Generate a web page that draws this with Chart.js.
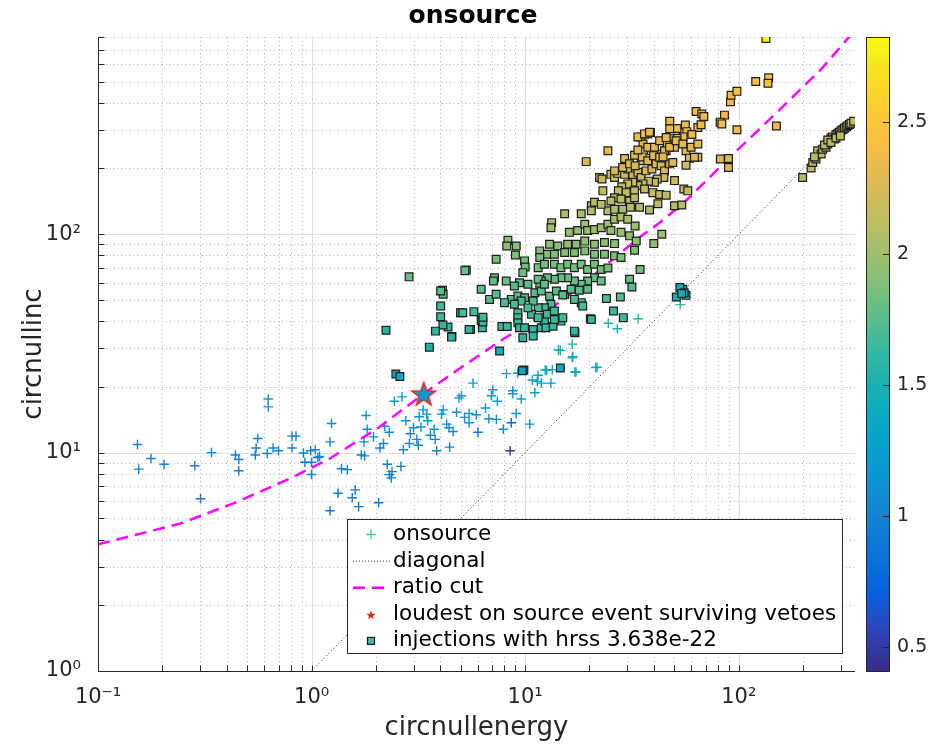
<!DOCTYPE html>
<html>
<head>
<meta charset="utf-8">
<script src="https://cdn.jsdelivr.net/npm/chart.js"></script>
<style>
  html, body { margin: 0; padding: 0; background: #fff; }
</style>
</head>
<body>
<canvas id="grafico" width="946" height="746"></canvas>
<script>
// ---- datos ----
// [circnullenergy, circnullinc, valor de color]
const onsource = [
  [0.153,10.9,1.0],[0.155,8.4,0.95],[0.177,9.4,0.97],[0.204,8.85,0.96],[0.284,8.7,0.96],[0.302,6.15,0.9],
  [0.34,10.0,0.98],[0.44,9.75,0.98],[0.456,9.3,0.97],[0.456,8.26,0.95],[0.545,9.75,0.98],[0.56,11.6,1.02],
  [0.55,10.5,1.0],[0.62,9.9,0.98],[0.66,10.5,1.0],[0.70,10.2,1.0],[0.627,17.6,1.22],[0.627,16.2,1.2],
  [0.81,11.9,1.03],[0.845,11.9,1.03],[0.81,10.5,1.0],[0.916,9.96,0.99],[0.93,9.04,0.97],[1.0,9.04,0.97],
  [1.0,7.94,0.95],[1.04,10.3,1.0],[1.07,9.5,0.98],[1.09,9.6,0.98],[0.99,10.2,1.0],
  [1.22,11.2,1.02],[1.24,13.6,1.08],[1.22,5.42,0.88],[1.33,6.52,0.9],[1.38,8.43,0.95],[1.47,8.36,0.95],
  [1.55,6.21,0.9],[1.60,6.75,0.92],[1.66,5.66,0.88],[1.71,9.75,0.98],[1.77,9.66,0.98],[1.76,11.2,1.02],
  [1.82,12.8,1.06],[1.80,14.8,1.1],[2.06,5.89,0.89],[2.09,10.5,1.0],[2.17,11.0,1.02],[2.26,8.85,0.96],
  [2.31,7.93,0.94],[2.36,7.66,0.93],[2.38,8.18,0.95],[2.31,12.4,1.05],[2.44,17.2,1.2],[2.65,18.0,1.22],
  [2.62,8.65,0.96],[2.69,10.3,1.0],[2.76,14.0,1.1],[2.87,11.0,1.02],[3.11,11.5,1.03],[3.16,10.8,1.01],
  [3.25,13.1,1.07],[3.19,14.6,1.1],[3.33,15.7,1.13],[3.46,15.0,1.12],[3.75,12.8,1.06],[3.79,11.5,1.03],
  [3.85,10.2,1.0],[4.06,15.0,1.12],[4.13,15.7,1.13],[4.29,13.5,1.08],[4.40,13.0,1.07],[4.43,10.6,1.01],
  [4.77,15.3,1.12],[4.90,17.8,1.2],[5.03,18.2,1.2],[5.46,15.1,1.12],[5.46,13.7,1.08],[5.70,20.8,1.25],
  [6.01,12.4,0.85],[6.52,16.0,1.14],[6.76,14.3,1.1],[6.95,18.2,1.2],[7.06,19.4,1.23],[7.41,17.2,1.18],
  [7.33,14.2,1.1],[7.90,12.8,1.06],[8.17,23.0,1.3],[8.61,13.7,0.75],[8.75,19.2,1.22],[8.75,18.6,1.22],
  [9.08,15.1,1.12],[9.23,23.1,1.3],[9.58,17.6,1.2],[10.5,13.5,1.08],[10.8,21.5,1.28],[11.1,18.8,1.22],
  [11.4,21.2,1.27],[11.9,20.8,1.26],[12.4,23.9,1.32],[13.2,20.8,1.26],[13.4,24.0,1.32],[14.3,29.5,1.42],
  [16.6,31.4,1.45],[16.6,27.2,1.4],[17.1,23.4,1.32],[21.4,24.5,1.35],[24.5,39.1,1.5],[27.0,36.9,1.5],
  [33.8,41.0,1.55],[53.2,47.6,1.58],[8.5,10.2,0.45],[14.6,29.4,1.42],[16.7,27.5,1.4],[21.7,24.6,1.35],
  [17.3,23.4,1.33],[12.6,23.8,1.32],[11.5,22.6,1.3],[2.9,12.2,1.05],[3.0,13.0,1.07],[3.5,14.0,1.09],
  [3.6,12.0,1.04],[4.6,12.5,1.05],[5.2,14.5,1.1],[5.9,14.9,1.11],[2.2,13.2,1.07],[1.95,11.8,1.04]
];

const injections = [
  [134,787,2.8],[120,500,2.45],[138,520,2.46],[137,491,2.45],[91.4,404,2.42],[92,433,2.43],[98,451,2.44],
  [63.1,365,2.4],[67.1,355,2.4],[68.6,346,2.39],[85.7,351,2.4],[81.8,326,2.37],[83.3,320,2.37],[98,301,2.36],
  [150,313,2.37],[47.5,329,2.37],[51.4,305,2.36],[47.5,304,2.36],[56.2,316,2.37],[57.1,295,2.34],[54.9,279,2.33],
  [51.4,275,2.33],[47.5,274,2.32],[64.3,308,2.36],[66.6,317,2.37],[38.6,292,2.33],[34.9,279,2.33],[37.5,288,2.33],
  [35.6,259,2.3],[24.4,241,2.3],[19.3,215,2.27],[29.2,222,2.27],[32.1,199,2.24],[34.9,217,2.27],[38.9,241,2.29],
  [41.8,233,2.28],[45.7,241,2.29],[46.2,259,2.3],[50,250,2.3],[56.6,241,2.29],[59.8,250,2.3],[64.3,259,2.3],
  [58.7,223,2.27],[64.3,225,2.27],[56.6,207,2.24],[82,221,2.27],[89.5,222,2.27],[89.5,202,2.24],
  [50,176,2.2],[55.3,161,2.15],[57.7,158,2.15],[50,135,2.1],[54.1,136,2.1],[43.6,100,1.97],[40,90.6,1.92],
  [34.5,69,1.84],[30.8,62.2,1.79],[31.6,57.3,1.74],[28.8,41.5,1.66],[25.9,44.5,1.67],[27.9,51.6,1.74],
  [24,50.8,1.74],[20.2,41,1.66],[17.1,35.4,1.61],
  [22.3,182,2.2],[23.1,158,2.15],[25.2,188,2.2],[26.2,182,2.2],[27.1,190,2.22],[29.2,188,2.2],[30.2,199,2.24],
  [31.9,185,2.2],[33.7,192,2.23],[34.9,182,2.2],[36.8,195,2.23],[39.2,199,2.24],[41,210,2.25],[43.3,206,2.24],
  [44.9,195,2.23],[47.4,210,2.25],[49.1,213,2.26],[44.6,182,2.2],[41.5,179,2.2],[40.3,173,2.19],[37.8,175,2.19],
  [35.6,170,2.17],[33.7,167,2.15],[31.9,173,2.18],[30.2,170,2.17],[28.3,165,2.15],[27.3,158,2.14],[29.7,155,2.14],
  [32.5,158,2.15],[36.2,161,2.15],[39.6,155,2.14],[42.6,152,2.13],[45.7,151,2.13],[41.8,138,2.1],[38.2,129,2.05],
  [34.3,133,2.08],[26.2,147,2.11],[25.2,142,2.1],[28.1,145,2.11],[30.8,142,2.1],[32.5,147,2.11],[24.4,128,2.05],
  [26.2,130,2.06],[28.6,130,2.06],[31.1,133,2.08],[20.4,135,2.08],[21.1,140,2.1],[22.7,137,2.09],
  [22.9,179,2.2],[26.2,195,2.23],[28.6,202,2.24],[30.8,210,2.25],[32.7,206,2.24],[35.3,226,2.27],[37.5,217,2.26],
  [39.9,229,2.28],[42.6,225,2.27],[44.9,241,2.29],[44.2,226,2.27],[32.5,230,2.28],[33.7,243,2.29],[37.5,250,2.3],
  [40.3,250,2.3],[42.6,268,2.31],[45.7,277,2.33],[33.7,279,2.33],[36.2,288,2.33],[38.2,293,2.34],[47.4,250,2.3],
  [50.9,268,2.31],[54.7,259,2.3],[60.3,286,2.33],[62,225,2.27],
  [15.3,124,2.03],[18.3,124,2.03],[20.4,128,2.05],[13.3,113,2.0],[13.2,107,1.98],[16.1,102,1.97],[17.6,104,1.97],
  [19,111,2.0],[19.6,104,1.97],[21.1,105,1.97],[22.7,107,1.98],[24.4,111,2.0],[26.2,117,2.02],[28.1,120,2.03],
  [30.2,117,2.02],[32.7,109,1.98],[25.2,104,1.97],[28.1,102,1.97],[30.8,98.3,1.95],[33.1,93.1,1.93],[32.5,84.5,1.88],
  [26.2,90.6,1.92],[23.5,91.6,1.92],[21.1,90,1.92],[19,93,1.93],[17.3,90,1.92],[15.8,90,1.92],[14.2,88.4,1.91],
  [13,90,1.92],[11.7,83.9,1.88],[12.7,81,1.88],[13.7,81,1.88],[15.3,82.4,1.88],[17,82.4,1.88],[19,83.9,1.88],
  [21.1,81,1.88],[23.5,81,1.88],[26.2,79.6,1.87],[28.1,78.2,1.87],
  [8.3,93.8,1.93],[8.2,88.4,1.91],[9.08,88.4,1.91],[9,80.4,1.88],[7.31,76.8,1.87],[9.93,75.5,1.86],[10,70.8,1.84],
  [9.75,66.7,1.83],[11.7,78.2,1.87],[11.5,70.3,1.84],[12.3,72.8,1.85],[13.7,72.8,1.85],[14.7,70.3,1.84],
  [15.8,72.8,1.85],[17,70.3,1.84],[18.3,72.8,1.85],[19.6,69,1.84],[21.1,72.8,1.85],[22.7,69,1.84],[24.4,70,1.84],
  [21.1,63.2,1.8],[22.7,61.1,1.79],[19.6,61.1,1.79],[18.3,59,1.78],[17,61.1,1.79],[15.8,63.2,1.8],[14.7,63.2,1.8],
  [13.7,62.2,1.79],[12.7,63.2,1.8],[11.9,61.1,1.79],[11.7,57.9,1.76],[11.5,62.2,1.79],[10.3,59,1.77],[9.4,60,1.78],
  [8.9,57.9,1.76],[8.15,61.1,1.79],[7.18,63.2,1.8],[7.1,61.1,1.79],[6.22,56,1.75],[5.3,68.5,1.83],[2.86,63.8,1.8],
  [4.1,55.4,1.75],[4.13,53.1,1.74],[6.81,50.3,1.73],[7.31,53.1,1.74],[8.6,50.3,1.73],[9.24,52.1,1.74],
  [9.93,51.2,1.73],[11.1,54,1.74],[11.9,55,1.75],[13,52,1.74],[14,55,1.75],[15.3,53,1.74],[16.4,56,1.75],
  [17.9,55.4,1.75],[19.6,56,1.75],[18.3,48.6,1.7],[17,50.3,1.72],[15,52.7,1.74],[13.2,47.8,1.7],[12.3,46.1,1.69],
  [11.5,46.1,1.69],[10.9,49.4,1.71],[9.58,49.4,1.71],[8.9,47.8,1.7],[8,48.6,1.7],[9.24,43.7,1.67],[9.24,41.5,1.66],
  [9.24,39.3,1.64],[9.4,37.3,1.62],[9.93,37.3,1.62],[9.75,33.6,1.57],[10.9,36.6,1.61],[10.9,34.2,1.58],
  [11.9,37.3,1.62],[12.3,40,1.64],[12.7,43,1.66],[13.7,44.5,1.67],[12.5,37.3,1.62],[13.5,37.9,1.62],[14.7,40,1.64],
  [15,41.5,1.66],[13.7,40.7,1.65],[17,36,1.61],[20.4,40.7,1.65],[18.6,46.9,1.69],[10.7,43,1.66],[11.5,41.5,1.66],
  [10.3,46,1.69],[12.3,59,1.77],
  [2.23,36.3,1.55],[4.02,55,1.75],[4.02,46.9,1.69],[4.02,41.9,1.66],[4.35,37.6,1.62],[4.12,38.4,1.62],[3.8,36,1.6],
  [4.54,34,1.57],[3.56,30.4,1.52],[4.98,43.7,1.67],[5.1,43.7,1.67],[5.75,44.2,1.67],[5.55,36.6,1.6],[6.22,40.3,1.64],
  [6.3,37.3,1.62],[7.59,29.2,1.48],[7.78,37.8,1.62],[8.24,37.8,1.62],[5.46,36.6,1.6],[6.34,39.6,1.63],[6.34,41.7,1.66],
  [4.52,33.8,1.56],[5.22,68.1,1.83],[9.86,23.9,1.38],[9.7,23.7,1.37],[14.6,24.4,1.4],[2.48,22.9,1.36],[2.59,22.3,1.36],
  [54.7,56,1.45],[51,51.6,1.43],[56.6,52.5,1.45],[53,57,1.45],[55.5,54,1.45],[54,53.5,1.44],
  [199,182,2.08],[218,201,2.09],[222,213,2.09],[230,221,2.1],[234,241,2.1],[243,233,2.1],[247,245,2.1],
  [256,250,2.1],[261,259,2.1],[266,268,2.11],[270,276,2.11],[275,279,2.11],[280,273,2.11],[285,286,2.11],
  [291,290,2.11],[296,293,2.12],[301,298,2.12],[307,302,2.12],[312,306,2.12],[318,310,2.12],[324,314,2.12],
  [330,318,2.12],[335,322,2.13],[345,329,2.13],[226,226,2.09],[252,256,2.1],[261,270,2.1],[270,263,2.11],
  [285,276,2.11],[299,282,2.12]
];

const loudest = [[3.35, 18.6, 1.22]];

const ratioCutX = [0.1, 0.244, 0.44, 0.79, 1.22, 2.08, 3.37, 5.03, 7.94, 11.6, 17.7, 25.8, 33.8, 44.2, 57.7, 88.7, 148, 245, 321, 360];
const ratioCutY = [3.8, 4.74, 5.9, 7.6, 9.4, 13.1, 18.7, 24.6, 33.2, 41.7, 56.6, 76.9, 95.7, 116, 145, 220, 355, 574, 780, 880];

const diagonalX = [1, 350];
const diagonalY = [1, 350];

const xTickValues = [0.1, 1, 10, 100];
const xTickLabels = ['10\u207B\u00B9', '10\u2070', '10\u00B9', '10\u00B2'];
const yTickValues = [1, 10, 100];
const yTickLabels = ['10\u2070', '10\u00B9', '10\u00B2'];
const cbTickValues = [0.5, 1, 1.5, 2, 2.5];
const cbTickLabels = ['0.5', '1', '1.5', '2', '2.5'];

const legendLabels = ['onsource', 'diagonal', 'ratio cut', 'loudest on source event surviving vetoes', 'injections with hrss 3.638e-22'];

// ---- limites y estilo ----
const X_MIN = 0.1, X_MAX = 350;
const Y_MIN = 1, Y_MAX = 800;
const CB_MIN = 0.41, CB_MAX = 2.825;
const FUENTE = '"DejaVu Sans", sans-serif';
const GRIS = '#262626';
const TRANSP = 'rgba(0,0,0,0)';

// parula (muestras cada 4 filas de la tabla de 64)
const parula = [
  [0.2081,0.1663,0.5292],[0.1959,0.2645,0.7279],[0.0117,0.3875,0.8820],[0.0498,0.4586,0.8641],
  [0.0793,0.5200,0.8312],[0.0343,0.5966,0.8199],[0.0228,0.6535,0.7768],[0.0843,0.6928,0.7062],
  [0.2178,0.7250,0.6193],[0.3953,0.7459,0.5244],[0.5709,0.7485,0.4494],[0.7184,0.7411,0.3905],
  [0.8507,0.7299,0.3360],[0.9739,0.7314,0.2666],[0.9880,0.8066,0.1794],[0.9589,0.8949,0.1132],
  [0.9763,0.9831,0.0538]
];
const parulaPos = parula.map((_, i) => Math.min(i * 4, 63) / 63);

function colorT(t) {
  t = Math.max(0, Math.min(1, t));
  let i = 0;
  while (i < parula.length - 2 && t > parulaPos[i + 1]) i++;
  const f = (t - parulaPos[i]) / (parulaPos[i + 1] - parulaPos[i]);
  const a = parula[i], b = parula[i + 1];
  const c = a.map((v, k) => Math.round(255 * (v + (b[k] - v) * f)));
  return `rgb(${c[0]},${c[1]},${c[2]})`;
}
function colorDe(v) { return colorT((v - CB_MIN) / (CB_MAX - CB_MIN)); }

function trazarEstrella(ctx, cx, cy, rOut, rIn) {
  ctx.beginPath();
  for (let i = 0; i < 10; i++) {
    const r = i % 2 ? rIn : rOut;
    const ang = -Math.PI / 2 + i * Math.PI / 5;
    ctx.lineTo(cx + r * Math.cos(ang), cy + r * Math.sin(ang));
  }
  ctx.closePath();
}

function imagenEstrella(radio, relleno, borde, grosor) {
  const lado = Math.ceil(radio * 2 + grosor * 2 + 2);
  const c = document.createElement('canvas');
  c.width = lado; c.height = lado;
  const g = c.getContext('2d');
  trazarEstrella(g, lado / 2, lado / 2 + 1, radio, radio * 0.4);
  g.fillStyle = relleno; g.fill();
  g.lineWidth = grosor; g.strokeStyle = borde; g.stroke();
  return c;
}

function rejillaMenor(min, max) {
  const vals = [];
  for (let d = Math.floor(Math.log10(min)); d <= Math.ceil(Math.log10(max)); d++) {
    for (let m = 2; m <= 9; m++) {
      const v = m * Math.pow(10, d);
      if (v > min && v <= max) vals.push(v);
    }
  }
  return vals;
}

function linea(ctx, x1, y1, x2, y2) {
  ctx.beginPath(); ctx.moveTo(x1, y1); ctx.lineTo(x2, y2); ctx.stroke();
}

// rejilla, ejes con ticks hacia dentro, barra de color y leyenda
const estiloMatlab = {
  id: 'estiloMatlab',
  beforeDatasetsDraw(chart) {
    const { ctx, chartArea: a, scales: { x, y } } = chart;
    ctx.save();
    ctx.lineWidth = 1;
    ctx.strokeStyle = '#bdbdbd';
    ctx.setLineDash([1, 3]);
    rejillaMenor(X_MIN, X_MAX).forEach(v => {
      const px = Math.round(x.getPixelForValue(v)) + 0.5;
      linea(ctx, px, a.top, px, a.bottom);
    });
    rejillaMenor(Y_MIN, Y_MAX).forEach(v => {
      const py = Math.round(y.getPixelForValue(v)) + 0.5;
      linea(ctx, a.left, py, a.right, py);
    });
    ctx.setLineDash([]);
    ctx.strokeStyle = '#dedede';
    xTickValues.forEach(v => {
      const px = Math.round(x.getPixelForValue(v)) + 0.5;
      linea(ctx, px, a.top, px, a.bottom);
    });
    yTickValues.forEach(v => {
      const py = Math.round(y.getPixelForValue(v)) + 0.5;
      linea(ctx, a.left, py, a.right, py);
    });
    ctx.restore();
  },
  afterDraw(chart) {
    const { ctx, chartArea: a, scales: { x, y, cb } } = chart;
    ctx.save();

    // ejes
    ctx.strokeStyle = GRIS;
    ctx.lineWidth = 1;
    const izq = Math.round(a.left) + 0.5, abajo = Math.round(a.bottom) + 0.5;
    linea(ctx, izq, a.top, izq, abajo);
    linea(ctx, izq, abajo, a.right, abajo);
    xTickValues.concat(rejillaMenor(X_MIN, X_MAX)).forEach(v => {
      const px = Math.round(x.getPixelForValue(v)) + 0.5;
      linea(ctx, px, abajo, px, abajo - 6);
    });
    yTickValues.concat(rejillaMenor(Y_MIN, Y_MAX)).forEach(v => {
      const py = Math.round(y.getPixelForValue(v)) + 0.5;
      linea(ctx, izq, py, izq + 6, py);
    });

    // barra de color
    const bx1 = cb.left + 11, bx2 = cb.left + 34;
    const by1 = cb.getPixelForValue(CB_MAX), by2 = cb.getPixelForValue(CB_MIN);
    const grad = ctx.createLinearGradient(0, by2, 0, by1);
    for (let i = 0; i <= 40; i++) grad.addColorStop(i / 40, colorT(i / 40));
    ctx.fillStyle = grad;
    ctx.fillRect(bx1, by1, bx2 - bx1, by2 - by1);
    ctx.strokeStyle = GRIS;
    ctx.strokeRect(Math.round(bx1) + 0.5, Math.round(by1) + 0.5, Math.round(bx2 - bx1), Math.round(by2 - by1));
    cbTickValues.forEach(v => {
      const py = Math.round(cb.getPixelForValue(v)) + 0.5;
      linea(ctx, bx2 - 6, py, bx2, py);
    });

    // leyenda
    const L = a.right - 508, R = a.right - 13, T = a.bottom - 152, B = a.bottom - 18;
    ctx.fillStyle = '#fff';
    ctx.fillRect(L, T, R - L, B - T);
    ctx.strokeStyle = GRIS;
    ctx.lineWidth = 1;
    ctx.strokeRect(Math.round(L) + 0.5, Math.round(T) + 0.5, Math.round(R - L), Math.round(B - T));
    const paso = 26.6, fila0 = T + 15.5, mx = L + 24, tx = L + 46;
    ctx.font = '21.5px ' + FUENTE;
    ctx.fillStyle = '#000';
    ctx.textBaseline = 'middle';
    ctx.textAlign = 'left';
    legendLabels.forEach((t, i) => ctx.fillText(t, tx, fila0 + i * paso));

    let fy = fila0;
    ctx.strokeStyle = '#4fc2a7'; ctx.lineWidth = 1.4;
    linea(ctx, mx - 5, fy, mx + 5, fy); linea(ctx, mx, fy - 5, mx, fy + 5);
    fy += paso;
    ctx.strokeStyle = '#222'; ctx.lineWidth = 1; ctx.setLineDash([1, 2]);
    linea(ctx, L + 6, fy, L + 45, fy);
    fy += paso;
    ctx.strokeStyle = '#ff00ff'; ctx.lineWidth = 2.5; ctx.setLineDash([12, 7]);
    linea(ctx, L + 6, fy, L + 38, fy);
    ctx.setLineDash([]);
    fy += paso;
    trazarEstrella(ctx, mx, fy + 1, 5, 2);
    ctx.fillStyle = '#e3261c'; ctx.fill();
    fy += paso;
    ctx.fillStyle = '#40b9a3'; ctx.fillRect(mx - 3.5, fy - 3.5, 7, 7);
    ctx.strokeStyle = '#1a1a1a'; ctx.lineWidth = 1.2; ctx.strokeRect(mx - 3.5, fy - 3.5, 7, 7);

    ctx.restore();
  }
};

const ctx = document.getElementById('grafico').getContext('2d');
new Chart(ctx, {
  type: 'scatter',
  data: {
    datasets: [
      {
        label: legendLabels[4],
        data: injections.map(p => ({ x: p[0], y: p[1] })),
        pointStyle: 'rect',
        pointRadius: 5.5,
        pointHoverRadius: 5.5,
        pointBorderWidth: 1.2,
        pointBorderColor: '#1c1c1c',
        pointBackgroundColor: injections.map(p => colorDe(p[2])),
        order: 0
      },
      {
        label: legendLabels[3],
        data: loudest.map(p => ({ x: p[0], y: p[1] })),
        pointStyle: imagenEstrella(12.5, colorDe(loudest[0][2]), '#e3261c', 1.5),
        pointRadius: 12,
        order: 1
      },
      {
        label: legendLabels[2],
        data: ratioCutX.map((v, i) => ({ x: v, y: ratioCutY[i] })),
        showLine: true,
        borderColor: '#ff00ff',
        borderWidth: 2.5,
        borderDash: [12, 7],
        pointRadius: 0,
        fill: false,
        order: 2
      },
      {
        label: legendLabels[1],
        data: diagonalX.map((v, i) => ({ x: v, y: diagonalY[i] })),
        showLine: true,
        borderColor: '#222',
        borderWidth: 1,
        borderDash: [1, 2.5],
        pointRadius: 0,
        fill: false,
        order: 3
      },
      {
        label: legendLabels[0],
        data: onsource.map(p => ({ x: p[0], y: p[1] })),
        pointStyle: 'cross',
        pointRadius: 4.8,
        pointHoverRadius: 4.8,
        pointBorderWidth: 1.4,
        pointBorderColor: onsource.map(p => colorDe(p[2])),
        pointBackgroundColor: onsource.map(p => colorDe(p[2])),
        order: 4
      }
    ]
  },
  options: {
    responsive: false,
    animation: false,
    events: [],
    layout: { padding: 0 },
    plugins: {
      legend: { display: false },
      tooltip: { enabled: false },
      title: {
        display: true,
        text: 'onsource',
        color: '#000',
        font: { family: FUENTE, size: 25, weight: 'bold' },
        padding: { top: 1, bottom: 6 }
      }
    },
    scales: {
      x: {
        type: 'logarithmic',
        position: 'bottom',
        min: X_MIN, max: X_MAX,
        afterBuildTicks: s => { s.ticks = xTickValues.map(v => ({ value: v })); },
        afterFit: s => { s.height = 75; },
        grid: { display: false },
        border: { display: false },
        ticks: {
          autoSkip: false, maxRotation: 0, padding: 6, color: GRIS,
          font: { family: FUENTE, size: 21 },
          callback: v => { const i = xTickValues.indexOf(v); return i >= 0 ? xTickLabels[i] : ''; }
        },
        title: {
          display: true, text: 'circnullenergy', color: GRIS,
          font: { family: FUENTE, size: 26 }, padding: { top: 0, bottom: 2 }
        }
      },
      y: {
        type: 'logarithmic',
        position: 'left',
        min: Y_MIN, max: Y_MAX,
        afterBuildTicks: s => { s.ticks = yTickValues.map(v => ({ value: v })); },
        afterFit: s => { s.width = 98; },
        grid: { display: false },
        border: { display: false },
        ticks: {
          autoSkip: false, padding: 9, color: GRIS,
          font: { family: FUENTE, size: 21 },
          callback: v => { const i = yTickValues.indexOf(v); return i >= 0 ? yTickLabels[i] : ''; }
        },
        title: {
          display: true, text: 'circnullinc', color: GRIS,
          font: { family: FUENTE, size: 26 }, padding: { top: 19, bottom: 0 }
        }
      },
      cb: {
        type: 'linear',
        position: 'right',
        min: CB_MIN, max: CB_MAX,
        afterBuildTicks: s => { s.ticks = cbTickValues.map(v => ({ value: v })); },
        afterFit: s => { s.width = 91; },
        grid: {
          display: true, drawOnChartArea: false, drawTicks: true, tickLength: 40,
          color: TRANSP, tickColor: TRANSP
        },
        border: { display: false },
        ticks: {
          autoSkip: false, padding: 2, color: GRIS,
          font: { family: FUENTE, size: 19 },
          callback: v => { const i = cbTickValues.indexOf(v); return i >= 0 ? cbTickLabels[i] : ''; }
        }
      }
    }
  },
  plugins: [estiloMatlab]
});
</script>
</body>
</html>
